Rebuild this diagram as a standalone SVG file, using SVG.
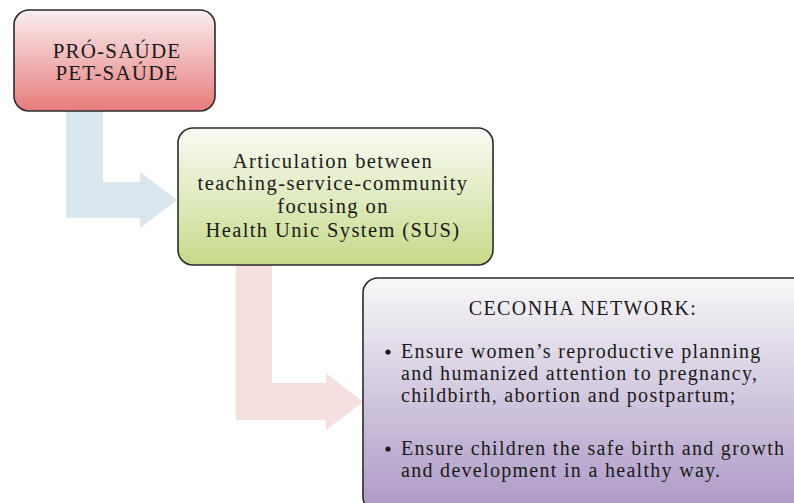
<svg xmlns="http://www.w3.org/2000/svg" width="794" height="503" viewBox="0 0 794 503">
<defs>
<linearGradient id="gRed" x1="0" y1="0" x2="0" y2="1"><stop offset="0" stop-color="#faeef0"/><stop offset="1" stop-color="#e77c7c"/></linearGradient>
<linearGradient id="gGreen" x1="0" y1="0" x2="0" y2="1"><stop offset="0" stop-color="#fbfbf6"/><stop offset="1" stop-color="#c6da8a"/></linearGradient>
<linearGradient id="gPurple" x1="0" y1="0" x2="0" y2="1"><stop offset="0" stop-color="#f8f8f8"/><stop offset="1" stop-color="#ac98c6"/></linearGradient>
<style>
.box{stroke:#2b2b2b;stroke-width:1.6}
.t{font-family:"Liberation Serif","Times New Roman",serif;fill:#1a1a1a}
.c{text-anchor:middle}
.n1{font-size:21px;letter-spacing:1.2px}
.n2{font-size:20.5px;letter-spacing:1.4px}
.h3{font-size:20px;letter-spacing:1.4px}
.b3{font-size:20px;letter-spacing:1.3px}
</style>
</defs>
<g id="connectors">
<polygon points="66,111 103,111 103,182 140,182 140,172 177,200 140,228 140,218 66,218" fill="#dae6ed"/>
<polygon points="236,265 272,265 272,383 326,383 326,373 363,402 326,430 326,420 236,420" fill="#f5dfdf"/>
</g>
<g id="node1">
<rect class="box" x="14" y="10" width="201" height="101" rx="15" fill="url(#gRed)"/>
<text class="t c n1" x="117" y="58">PRÓ-SAÚDE</text>
<text class="t c n1" x="117" y="80">PET-SAÚDE</text>
</g>
<g id="node2">
<rect class="box" x="178" y="128" width="315" height="137" rx="15" fill="url(#gGreen)"/>
<text class="t c n2" x="333" y="168">Articulation between</text>
<text class="t c n2" x="333" y="190">teaching-service-community</text>
<text class="t c n2" x="333" y="213">focusing on</text>
<text class="t c n2" x="333" y="237">Health Unic System (SUS)</text>
</g>
<g id="node3">
<rect class="box" x="363" y="278" width="445" height="234" rx="15" fill="url(#gPurple)"/>
<text class="t c h3" x="583" y="315">CECONHA NETWORK:</text>
<circle cx="388" cy="352" r="2.6" fill="#1a1a1a"/>
<text class="t b3" x="401" y="358">Ensure women’s reproductive planning</text>
<text class="t b3" x="401" y="380">and humanized attention to pregnancy,</text>
<text class="t b3" x="401" y="402">childbirth, abortion and postpartum;</text>
<circle cx="388" cy="449" r="2.6" fill="#1a1a1a"/>
<text class="t b3" x="401" y="455">Ensure children the safe birth and growth</text>
<text class="t b3" x="401" y="477">and development in a healthy way.</text>
</g>
</svg>
